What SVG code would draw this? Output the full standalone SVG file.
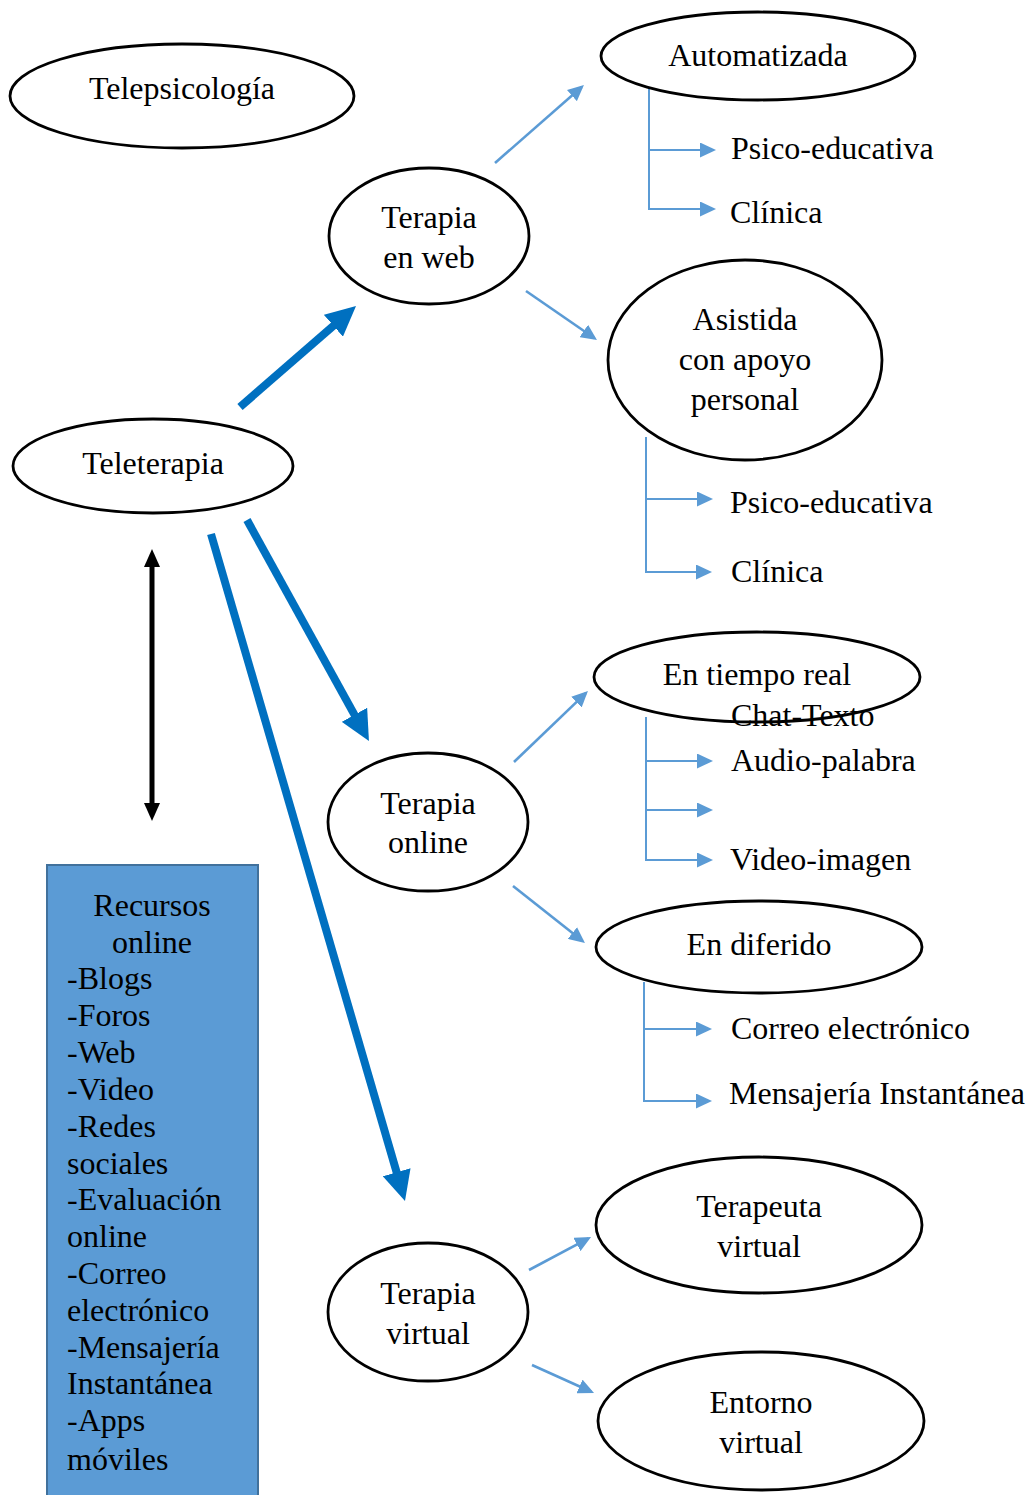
<svg xmlns="http://www.w3.org/2000/svg" width="1032" height="1495" viewBox="0 0 1032 1495">
<style>
  .node ellipse { fill: #ffffff; stroke: #000000; stroke-width: 2.8; }
  text { font-family: "Liberation Serif", "Times New Roman", serif; font-size: 32px; fill: #000000; }
  .c { text-anchor: middle; }
  .thin { stroke: #5b9bd5; stroke-width: 2.6; fill: none; marker-end: url(#thinHead); }
  .br { stroke: #5b9bd5; stroke-width: 2; fill: none; }
  .brA { stroke: #5b9bd5; stroke-width: 2; fill: none; marker-end: url(#thinHead); }
  .thick { stroke: #0070c0; stroke-width: 8; fill: none; marker-end: url(#thickHead); }
  .dbl { stroke: #000000; stroke-width: 5; fill: none; marker-start: url(#blackHead); marker-end: url(#blackHead); }
</style>
<defs>
  <marker id="thinHead" markerUnits="userSpaceOnUse" markerWidth="17" markerHeight="15" refX="13" refY="7.5" orient="auto">
    <path d="M0,0 L16,7.5 L0,15 z" fill="#5b9bd5"/>
  </marker>
  <marker id="thickHead" markerUnits="userSpaceOnUse" markerWidth="31" markerHeight="29" refX="15" refY="14.5" orient="auto">
    <path d="M0,0 L30,14.5 L0,29 z" fill="#0070c0"/>
  </marker>
  <marker id="blackHead" markerUnits="userSpaceOnUse" markerWidth="19" markerHeight="17" refX="9" refY="8" orient="auto-start-reverse">
    <path d="M0,0 L18,8 L0,16 z" fill="#000000"/>
  </marker>
</defs>

<rect id="recursos-box" x="47" y="865" width="211" height="640" fill="#5b9bd5" stroke="#41719c" stroke-width="2"/>

<g id="connectors">
  <line class="thick" x1="240" y1="407" x2="344.7" y2="315.9"/>
  <line class="thick" x1="247" y1="520" x2="361.7" y2="727.9"/>
  <line class="thick" x1="211" y1="534" x2="400.8" y2="1186.6"/>
  <line class="dbl" x1="152" y1="558" x2="152" y2="812"/>

  <line class="thin" x1="495" y1="163" x2="581.7" y2="87"/>
  <line class="thin" x1="526" y1="291" x2="594.5" y2="338.3"/>
  <line class="thin" x1="514" y1="762" x2="585.8" y2="693.1"/>
  <line class="thin" x1="513" y1="886" x2="582.6" y2="941.1"/>
  <line class="thin" x1="529" y1="1270" x2="588.4" y2="1238.4"/>
  <line class="thin" x1="532" y1="1365" x2="591.3" y2="1391.8"/>

  <polyline class="br" points="649,88 649,209"/>
  <line class="brA" x1="649" y1="150" x2="713" y2="150"/>
  <line class="brA" x1="648" y1="209" x2="713" y2="209"/>

  <polyline class="br" points="646,437 646,572"/>
  <line class="brA" x1="646" y1="499" x2="710" y2="499"/>
  <line class="brA" x1="645" y1="572" x2="709" y2="572"/>

  <polyline class="br" points="646,717 646,860"/>
  <line class="brA" x1="646" y1="761" x2="710" y2="761"/>
  <line class="brA" x1="646" y1="810" x2="710" y2="810"/>
  <line class="brA" x1="645" y1="860" x2="710" y2="860"/>

  <polyline class="br" points="644,982 644,1101"/>
  <line class="brA" x1="644" y1="1029" x2="709" y2="1029"/>
  <line class="brA" x1="643" y1="1101" x2="709" y2="1101"/>
</g>

<g id="telepsicologia" class="node">
  <ellipse cx="182" cy="96" rx="172" ry="52"/>
  <text class="c" x="182" y="99">Telepsicología</text>
</g>
<g id="teleterapia" class="node">
  <ellipse cx="153" cy="466" rx="140" ry="47"/>
  <text class="c" x="153" y="474">Teleterapia</text>
</g>
<g id="terapia-web" class="node">
  <ellipse cx="429" cy="236" rx="100" ry="68"/>
  <text class="c" x="429" y="228">Terapia</text>
  <text class="c" x="429" y="268">en web</text>
</g>
<g id="automatizada" class="node">
  <ellipse cx="758" cy="56" rx="157" ry="44"/>
  <text class="c" x="758" y="66">Automatizada</text>
</g>
<g id="auto-items">
  <text x="731" y="159">Psico-educativa</text>
  <text x="730" y="223">Clínica</text>
</g>
<g id="asistida" class="node">
  <ellipse cx="745" cy="360" rx="137" ry="100"/>
  <text class="c" x="745" y="330">Asistida</text>
  <text class="c" x="745" y="370">con apoyo</text>
  <text class="c" x="745" y="410">personal</text>
</g>
<g id="asistida-items">
  <text x="730" y="513">Psico-educativa</text>
  <text x="731" y="582">Clínica</text>
</g>
<g id="terapia-online" class="node">
  <ellipse cx="428" cy="822" rx="100" ry="69"/>
  <text class="c" x="428" y="814">Terapia</text>
  <text class="c" x="428" y="853">online</text>
</g>
<g id="tiempo-real" class="node">
  <ellipse cx="757" cy="677" rx="163" ry="45"/>
  <text class="c" x="757" y="685">En tiempo real</text>
</g>
<g id="tiempo-real-items">
  <text x="731" y="726">Chat-Texto</text>
  <text x="731" y="771">Audio-palabra</text>
  <text x="730" y="870">Video-imagen</text>
</g>
<g id="diferido" class="node">
  <ellipse cx="759" cy="947" rx="163" ry="46"/>
  <text class="c" x="759" y="955">En diferido</text>
</g>
<g id="diferido-items">
  <text x="731" y="1039">Correo electrónico</text>
  <text x="729" y="1104">Mensajería Instantánea</text>
</g>
<g id="terapia-virtual" class="node">
  <ellipse cx="428" cy="1312" rx="100" ry="69"/>
  <text class="c" x="428" y="1304">Terapia</text>
  <text class="c" x="428" y="1344">virtual</text>
</g>
<g id="terapeuta-virtual" class="node">
  <ellipse cx="759" cy="1225" rx="163" ry="68"/>
  <text class="c" x="759" y="1217">Terapeuta</text>
  <text class="c" x="759" y="1257">virtual</text>
</g>
<g id="entorno-virtual" class="node">
  <ellipse cx="761" cy="1421" rx="163" ry="69"/>
  <text class="c" x="761" y="1413">Entorno</text>
  <text class="c" x="761" y="1453">virtual</text>
</g>

<g id="recursos-text">
  <text class="c" x="152" y="916">Recursos</text>
  <text class="c" x="152" y="953">online</text>
  <text x="67" y="989">-Blogs</text>
  <text x="67" y="1026">-Foros</text>
  <text x="67" y="1063">-Web</text>
  <text x="67" y="1100">-Video</text>
  <text x="67" y="1137">-Redes</text>
  <text x="67" y="1174">sociales</text>
  <text x="67" y="1210">-Evaluación</text>
  <text x="67" y="1247">online</text>
  <text x="67" y="1284">-Correo</text>
  <text x="67" y="1321">electrónico</text>
  <text x="67" y="1358">-Mensajería</text>
  <text x="67" y="1394">Instantánea</text>
  <text x="67" y="1431">-Apps</text>
  <text x="67" y="1470">móviles</text>
</g>
</svg>
